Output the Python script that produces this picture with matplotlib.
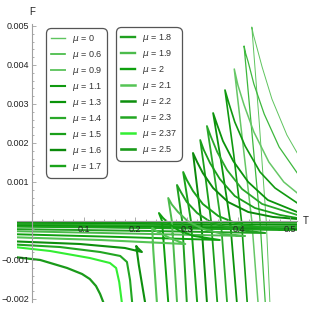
import matplotlib
matplotlib.use('Agg')
import matplotlib.pyplot as plt
from matplotlib.lines import Line2D
from matplotlib.ticker import FixedLocator

plt.rcParams['font.family'] = ['Liberation Sans', 'DejaVu Sans']

MU = ['0', '0.6', '0.9', '1.1', '1.3', '1.4', '1.5', '1.6', '1.7',
      '1.8', '1.9', '2', '2.1', '2.2', '2.3', '2.37', '2.5']
COLORS = ['#5ec45e', '#3db83d', '#66c766', '#109910', '#0a930a', '#2aa82a',
          '#1a9f1a', '#0b8a0b', '#1aa31a', '#20a020', '#4cbb4c', '#0fa00f',
          '#55c455', '#0d8f0d', '#22a622', '#33ee33', '#1a9a1a']
WIDTHS = [0.7, 0.9, 1.1, 1.2, 1.3, 1.3, 1.3, 1.4, 1.4,
          1.4, 1.4, 1.4, 1.5, 1.5, 1.5, 1.5, 1.6]

# points, T and F (F in units of 1e-3)
T_00 = [0.539, 0.514, 0.494, 0.465, 0.446, 0.434, 0.429, 0.426, 0.440, 0.454, 0.461, 0.462]
F_00 = [1.282, 1.744, 2.205, 3.128, 3.949, 4.538, 4.78, 4.974, 2.6, 0.0, -2.077, -2.41]
T_06 = [0.539, 0.514, 0.479, 0.450, 0.430, 0.419, 0.414, 0.411, 0.426, 0.442, 0.452, 0.453]
F_06 = [0.897, 1.231, 1.897, 2.744, 3.513, 4.077, 4.30, 4.487, 2.3, 0.0, -2.077, -2.41]
T_09 = [0.539, 0.514, 0.488, 0.459, 0.430, 0.411, 0.399, 0.392, 0.409, 0.426, 0.438, 0.439]
F_09 = [0.487, 0.718, 1.0, 1.513, 2.282, 2.974, 3.487, 3.897, 1.95, 0.0, -2.077, -2.41]
T_11 = [-0.052, 0.229, 0.539, 0.539, 0.514, 0.471, 0.442, 0.413, 0.393, 0.382,
        0.374, 0.391, 0.406, 0.417, 0.418]
F_11 = [-0.026, -0.038, -0.051, 0.308, 0.462, 0.846, 1.256, 1.923, 2.538, 3.0,
        3.359, 1.7, 0.0, -2.077, -2.41]
T_13 = [-0.052, 0.229, 0.539, 0.539, 0.514, 0.457, 0.419, 0.390, 0.370, 0.359,
        0.351, 0.368, 0.384, 0.397, 0.398]
F_13 = [-0.051, -0.077, -0.103, 0.154, 0.231, 0.538, 1.0, 1.538, 2.051, 2.462,
        2.769, 1.4, 0.0, -2.077, -2.41]
T_14 = [-0.052, 0.229, 0.539, 0.539, 0.514, 0.446, 0.407, 0.378, 0.359, 0.347,
        0.339, 0.353, 0.366, 0.378, 0.379]
F_14 = [-0.077, -0.115, -0.154, 0.103, 0.154, 0.436, 0.821, 1.308, 1.769, 2.154,
        2.436, 1.22, 0.0, -2.077, -2.41]
T_15 = [-0.052, 0.229, 0.539, 0.539, 0.514, 0.481, 0.432, 0.393, 0.364, 0.345,
        0.333, 0.326, 0.337, 0.347, 0.359, 0.360]
F_15 = [-0.103, -0.141, -0.192, 0.051, 0.077, 0.154, 0.333, 0.641, 1.077, 1.487,
        1.821, 2.077, 1.04, 0.0, -2.077, -2.41]
T_16 = [-0.052, 0.229, 0.539, 0.539, 0.514, 0.467, 0.419, 0.380, 0.351, 0.331,
        0.320, 0.312, 0.320, 0.328, 0.339, 0.340]
F_16 = [-0.128, -0.167, -0.231, 0.026, 0.051, 0.103, 0.231, 0.487, 0.846, 1.231,
        1.513, 1.744, 0.87, 0.0, -2.077, -2.41]
T_17 = [-0.052, 0.229, 0.500, 0.448, 0.399, 0.361, 0.331, 0.312, 0.300, 0.293,
        0.308, 0.320, 0.321]
F_17 = [-0.141, -0.179, -0.231, -0.179, -0.077, 0.128, 0.436, 0.769, 1.051, 1.256,
        0.0, -2.077, -2.41]
T_18 = [-0.052, 0.229, 0.452, 0.388, 0.349, 0.320, 0.300, 0.289, 0.281,
        0.291, 0.300, 0.301]
F_18 = [-0.205, -0.256, -0.308, -0.205, -0.051, 0.205, 0.487, 0.731, 0.923,
        0.0, -2.077, -2.41]
T_19 = [-0.052, 0.229, 0.413, 0.370, 0.331, 0.302, 0.283, 0.271, 0.264,
        0.271, 0.281, 0.282]
F_19 = [-0.256, -0.333, -0.385, -0.333, -0.205, -0.008, 0.231, 0.423, 0.590,
        0.0, -2.077, -2.41]
T_20 = [-0.052, 0.171, 0.364, 0.314, 0.285, 0.266, 0.254, 0.246,
        0.252, 0.264, 0.265]
F_20 = [-0.333, -0.410, -0.487, -0.385, -0.249, -0.077, 0.077, 0.205,
        0.0, -2.077, -2.41]
T_21 = [-0.052, 0.132, 0.297, 0.267, 0.244, 0.233, 0.235, 0.242, 0.244]
F_21 = [-0.410, -0.487, -0.590, -0.436, -0.282, -0.179, -0.744, -2.077, -2.41]
T_22 = [-0.052, 0.093, 0.180, 0.213, 0.205, 0.202, 0.207, 0.219, 0.221]
F_22 = [-0.513, -0.590, -0.692, -0.795, -0.692, -0.641, -1.128, -2.077, -2.41]
T_23 = [-0.052, 0.054, 0.132, 0.171, 0.184, 0.190, 0.194, 0.195]
F_23 = [-0.590, -0.667, -0.795, -0.897, -1.051, -1.513, -2.077, -2.41]
T_237 = [-0.052, 0.035, 0.112, 0.151, 0.163, 0.169, 0.174, 0.175]
F_237 = [-0.641, -0.769, -0.949, -1.077, -1.205, -1.564, -2.077, -2.41]
T_25 = [-0.052, 0.016, 0.068, 0.097, 0.112, 0.124, 0.132, 0.138, 0.140]
F_25 = [-0.897, -1.0, -1.205, -1.359, -1.487, -1.667, -1.872, -2.077, -2.41]

CURVES_T = [T_00, T_06, T_09, T_11, T_13, T_14, T_15, T_16, T_17,
            T_18, T_19, T_20, T_21, T_22, T_23, T_237, T_25]
CURVES_F = [F_00, F_06, F_09, F_11, F_13, F_14, F_15, F_16, F_17,
            F_18, F_19, F_20, F_21, F_22, F_23, F_237, F_25]

X_TICKS = [0.1, 0.2, 0.3, 0.4, 0.5]
Y_TICKS = [0.005, 0.004, 0.003, 0.002, 0.001, -0.001, -0.002]
Y_LABELS = ['0.005', '0.004', '0.003', '0.002', '0.001', '\u22120.001', '\u22120.002']

fig = plt.figure(figsize=(3.11, 3.11), dpi=100)
ax = fig.add_axes([17 / 311, 9 / 311, 280 / 311, 278 / 311])

for t, f, c, lw in zip(CURVES_T, CURVES_F, COLORS, WIDTHS):
    ax.plot(t, [v * 1e-3 for v in f], color=c, lw=lw,
            solid_joinstyle='round', solid_capstyle='butt')

ax.set_xlim(-0.0291, 0.5136)
ax.set_ylim(-0.002077, 0.005051)

# mathematica-like axes through the origin
for s in ['top', 'right']:
    ax.spines[s].set_visible(False)
for s in ['left', 'bottom']:
    ax.spines[s].set_position(('data', 0))
    ax.spines[s].set_color('#a0a0a0')
    ax.spines[s].set_linewidth(0.8)
ax.patch.set_visible(False)
ax.set_axisbelow(False)

ax.set_xticks(X_TICKS)
ax.set_xticklabels([str(x) for x in X_TICKS])
ax.set_yticks(Y_TICKS)
ax.set_yticklabels(Y_LABELS)
ax.xaxis.set_minor_locator(FixedLocator([i * 0.02 for i in range(1, 26) if i % 5]))
ax.yaxis.set_minor_locator(FixedLocator([i * 0.0002 for i in range(-10, 26) if i % 5]))
ax.tick_params(which='both', direction='in', color='#a0a0a0', width=0.6,
               labelsize=6.5, labelcolor='#222222', pad=2)
ax.tick_params(axis='x', pad=3)
ax.tick_params(which='major', length=3)
ax.tick_params(which='minor', length=1.6)

ax.text(0, 1.043, 'F', transform=ax.get_xaxis_transform(), ha='center',
        va='center', fontsize=7, color='#222222')
ax.text(1.02, 0, 'T', transform=ax.get_yaxis_transform(), ha='left',
        va='center', fontsize=7, color='#222222')

handles = [Line2D([], [], color=c, lw=lw + 0.3) for c, lw in zip(COLORS, WIDTHS)]
labels = [r'$\mu$ = ' + m for m in MU]
legend_kw = dict(loc='upper left', bbox_transform=fig.transFigure, borderaxespad=0,
                 fontsize=6.5, handlelength=1.6, handletextpad=0.7,
                 labelspacing=0.44, borderpad=0.55, frameon=True, fancybox=True,
                 edgecolor='#555555', facecolor='white', framealpha=1,
                 labelcolor='#333333')
leg1 = ax.legend(handles[:9], labels[:9], bbox_to_anchor=(46 / 311, 1 - 28 / 311),
                 **legend_kw)
leg1.get_frame().set_boxstyle('round,pad=0,rounding_size=0.6')
leg1.get_frame().set_linewidth(0.9)
ax.add_artist(leg1)
leg2 = ax.legend(handles[9:], labels[9:], bbox_to_anchor=(116 / 311, 1 - 27 / 311),
                 **legend_kw)
leg2.get_frame().set_boxstyle('round,pad=0,rounding_size=0.6')
leg2.get_frame().set_linewidth(0.9)

fig.savefig('out.png', dpi=100)
